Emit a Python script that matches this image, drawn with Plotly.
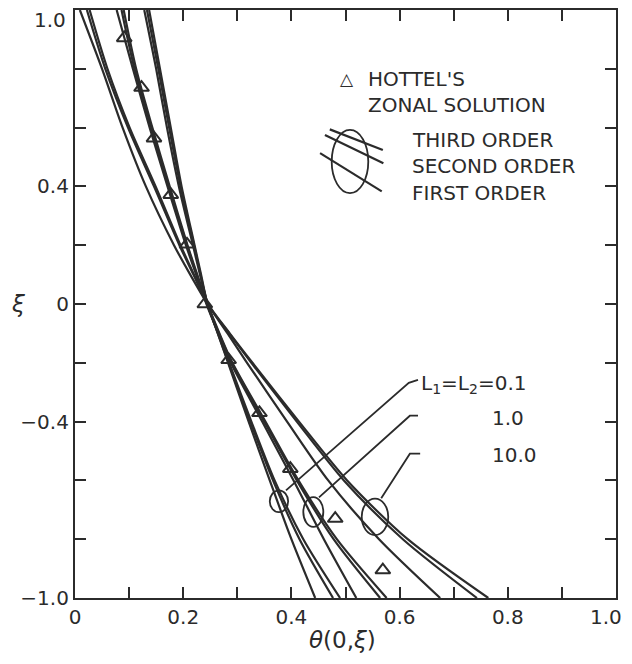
import plotly.graph_objects as go

# ---------------- data ----------------
XI = [1.0, 0.8, 0.6, 0.4, 0.2, 0.1, 0.0, -0.1, -0.2, -0.4, -0.6, -0.8, -1.0]

# L1 = L2 = 0.1
L01_FIRST  = [0.128, 0.150, 0.170, 0.192, 0.218, 0.231, 0.245, 0.264, 0.283, 0.321, 0.360, 0.400, 0.444]
L01_SECOND = [0.133, 0.154, 0.174, 0.195, 0.220, 0.232, 0.245, 0.264, 0.284, 0.324, 0.366, 0.415, 0.477]
L01_THIRD  = [0.137, 0.157, 0.177, 0.197, 0.221, 0.233, 0.245, 0.265, 0.285, 0.326, 0.369, 0.422, 0.490]
# L1 = L2 = 1.0
L1_FIRST   = [0.077, 0.107, 0.138, 0.171, 0.205, 0.224, 0.243, 0.265, 0.288, 0.346, 0.404, 0.460, 0.520]
L1_SECOND  = [0.086, 0.110, 0.141, 0.173, 0.207, 0.225, 0.244, 0.266, 0.290, 0.350, 0.410, 0.478, 0.564]
L1_THIRD   = [0.090, 0.113, 0.143, 0.175, 0.208, 0.226, 0.245, 0.267, 0.291, 0.352, 0.413, 0.484, 0.576]
# L1 = L2 = 10.0
L10_FIRST  = [0.009, 0.050, 0.088, 0.131, 0.183, 0.213, 0.245, 0.282, 0.318, 0.392, 0.468, 0.562, 0.675]
L10_SECOND = [0.022, 0.056, 0.098, 0.146, 0.193, 0.219, 0.245, 0.285, 0.326, 0.410, 0.497, 0.606, 0.743]
L10_THIRD  = [0.027, 0.060, 0.101, 0.149, 0.195, 0.220, 0.246, 0.286, 0.328, 0.414, 0.503, 0.615, 0.764]

# Hottel's zonal solution
HOTTEL_XI    = [0.905, 0.736, 0.564, 0.372, 0.203, 0.0, -0.19, -0.37, -0.56, -0.73, -0.905]
HOTTEL_THETA = [0.091, 0.123, 0.146, 0.177, 0.207, 0.240, 0.284, 0.341, 0.398, 0.481, 0.569]

X_TICKS = [0, 0.1, 0.2, 0.3, 0.4, 0.5, 0.6, 0.7, 0.8, 0.9, 1.0]
X_TICK_LABELS = ["0", "", "0.2", "", "0.4", "", "0.6", "", "0.8", "", ""]
X_END_LABEL = "1.0"
Y_TICKS = [-1.0, -0.8, -0.6, -0.4, -0.2, 0.0, 0.2, 0.4, 0.6, 0.8, 1.0]
Y_TICK_LABELS = ["\u22121.0", "", "", "\u22120.4", "", "0", "", "0.4", "", "", ""]
Y_TOP_LABEL = "1.0"

INK = "#2b2b2b"
FONT = "DejaVu Sans"

fig = go.Figure()
for theta in [L01_FIRST, L01_SECOND, L01_THIRD, L1_FIRST, L1_SECOND, L1_THIRD,
              L10_FIRST, L10_SECOND, L10_THIRD]:
    fig.add_trace(go.Scatter(x=theta, y=XI, mode="lines",
                             line=dict(color=INK, width=2.2, shape="spline", smoothing=0.8),
                             hoverinfo="skip", showlegend=False))

fig.add_trace(go.Scatter(x=HOTTEL_THETA, y=HOTTEL_XI, mode="markers",
                         marker=dict(symbol="triangle-up-open", size=13, color=INK,
                                     line=dict(width=2, color=INK)),
                         showlegend=False))

shapes = []
# circles marking each L group
for x0, x1, y0, y1 in [(0.360, 0.394, -0.708, -0.634),
                       (0.422, 0.459, -0.758, -0.657),
                       (0.530, 0.579, -0.786, -0.662)]:
    shapes.append(dict(type="circle", xref="x", yref="y", x0=x0, x1=x1, y0=y0, y1=y1,
                       line=dict(color=INK, width=1.8)))
# leader lines
for pts in [[(0.634, -0.258), (0.617, -0.268), (0.390, -0.634)],
            [(0.634, -0.380), (0.619, -0.380), (0.451, -0.658)],
            [(0.638, -0.509), (0.619, -0.509), (0.566, -0.661)]]:
    path = "M " + " L ".join(f"{x},{y}" for x, y in pts)
    shapes.append(dict(type="path", xref="x", yref="y", path=path,
                       line=dict(color=INK, width=1.8)))
# legend key: ellipse with three lines
shapes.append(dict(type="circle", xref="x", yref="y", x0=0.4745, x1=0.5421, y0=0.377, y1=0.592,
                   line=dict(color=INK, width=1.8)))
for (x0, y0), (x1, y1) in [((0.471, 0.594), (0.569, 0.524)),
                           ((0.462, 0.575), (0.570, 0.479)),
                           ((0.453, 0.513), (0.567, 0.383))]:
    shapes.append(dict(type="line", xref="x", yref="y", x0=x0, y0=y0, x1=x1, y1=y1,
                       line=dict(color=INK, width=2.2)))

tf = dict(family=FONT, size=20, color=INK)
annotations = [
    dict(x=0.502, y=0.767, text="\u25b3", xanchor="center", yanchor="middle", font=dict(family=FONT, size=17, color=INK)),
    dict(x=0.537, y=0.767, text="HOTTEL'S", xanchor="left", yanchor="middle", font=tf),
    dict(x=0.537, y=0.677, text="ZONAL SOLUTION", xanchor="left", yanchor="middle", font=tf),
    dict(x=0.620, y=0.558, text="THIRD ORDER", xanchor="left", yanchor="middle", font=tf),
    dict(x=0.620, y=0.468, text="SECOND ORDER", xanchor="left", yanchor="middle", font=tf),
    dict(x=0.620, y=0.377, text="FIRST ORDER", xanchor="left", yanchor="middle", font=tf),
    dict(x=0.636, y=-0.272, text="L<sub>1</sub>=L<sub>2</sub>=0.1", xanchor="left", yanchor="middle", font=tf),
    dict(x=0.768, y=-0.388, text="1.0", xanchor="left", yanchor="middle", font=tf),
    dict(x=0.768, y=-0.512, text="10.0", xanchor="left", yanchor="middle", font=tf),
    dict(x=-0.013, y=1.0, xref="paper", yref="y", text=Y_TOP_LABEL, xanchor="right",
         yanchor="top", yshift=4, font=dict(family=FONT, size=20, color=INK)),
    dict(x=0.981, y=-0.032, xref="paper", yref="paper", text=X_END_LABEL, xanchor="center",
         yanchor="middle", font=dict(family=FONT, size=20, color=INK)),
    dict(x=-0.105, y=0.5, xref="paper", yref="paper", text="<i>\u03be</i>", xanchor="center",
         yanchor="middle", font=dict(family=FONT, size=23, color=INK)),
    dict(x=0.495, y=-0.071, xref="paper", yref="paper", text="<i>\u03b8</i>(0,<i>\u03be</i>)",
         xanchor="center", yanchor="middle", font=dict(family=FONT, size=23, color=INK)),
]
for a in annotations:
    a.setdefault("xref", "x")
    a.setdefault("yref", "y")
    a["showarrow"] = False

axis_common = dict(showline=True, linewidth=2.2, linecolor=INK, mirror="ticks", ticks="inside",
                   ticklen=11, tickwidth=2, tickcolor=INK, showgrid=False, zeroline=False,
                   tickfont=dict(family=FONT, size=20, color=INK))
fig.update_layout(
    width=624, height=656,
    margin=dict(l=67, r=16, t=0, b=66),
    paper_bgcolor="white", plot_bgcolor="white",
    xaxis=dict(range=[0, 1], tickvals=X_TICKS, ticktext=X_TICK_LABELS, **axis_common),
    yaxis=dict(range=[-1, 1], tickvals=Y_TICKS, ticktext=Y_TICK_LABELS, **axis_common),
    shapes=shapes, annotations=annotations, showlegend=False,
)
fig.write_html("out.html")
